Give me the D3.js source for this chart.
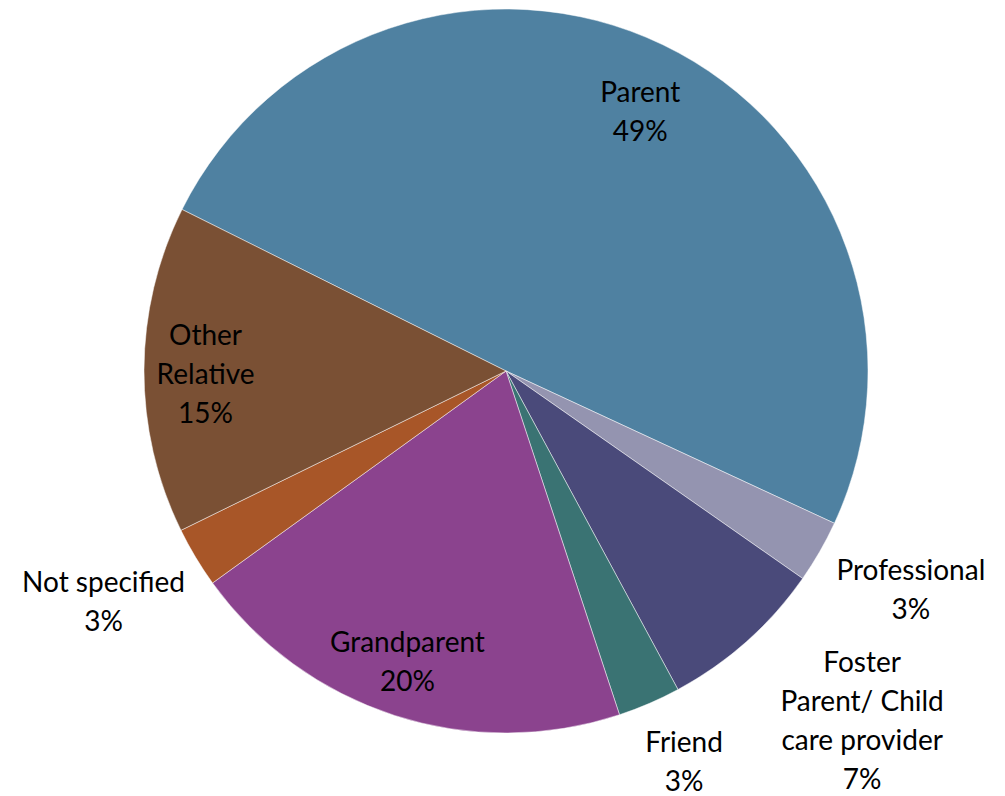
<!DOCTYPE html>
<html>
<head>
<meta charset="utf-8">
<script src="https://cdn.jsdelivr.net/npm/d3@7"></script>
<style>
  html, body { margin: 0; padding: 0; background: #fff; }
  svg { display: block; }
</style>
</head>
<body>
<svg id="chart" width="1005" height="796"></svg>
<script>
// Data
const categories = ["Parent", "Professional", "Foster Parent/ Child care provider", "Friend", "Grandparent", "Not specified", "Other Relative"];
const labelLines = [["Parent"], ["Professional"], ["Foster", "Parent/ Child", "care provider"], ["Friend"], ["Grandparent"], ["Not specified"], ["Other", "Relative"]];
const values = [49.5, 2.8, 7.4, 2.8, 20.1, 2.7, 14.6];
const percentLabels = ["49%", "3%", "7%", "3%", "20%", "3%", "15%"];
const colors = ["#4F81A1", "#9494B0", "#4A4A7A", "#3A7373", "#8B438E", "#A85628", "#7A5034"];
const outside = [false, true, true, true, false, true, false];

// Layout (not data): small label nudges to mimic the original placement
const labelNudge = [[4, 11], [8, -6], [27, -6], [-8, 10], [-6, 5], [-2, 0], [0, 4]];

const width = 1005, height = 796;
const cx = 506, cy = 371, R = 362;
const fontSize = 28, lineH = 39;

const svg = d3.select("#chart");
const g = svg.append("g").attr("transform", `translate(${cx},${cy})`);

const startA = -63.5 * Math.PI / 180;
const pie = d3.pie().sort(null).value(d => d.value)
  .startAngle(startA).endAngle(startA + 2 * Math.PI);
const data = categories.map((c, i) => ({ name: c, value: values[i], lines: labelLines[i], pct: percentLabels[i], color: colors[i], outside: outside[i], nudge: labelNudge[i] }));
const arcs = pie(data);
const arc = d3.arc().innerRadius(0).outerRadius(R);

g.selectAll("path.slice").data(arcs).join("path")
  .attr("class", "slice")
  .attr("d", arc)
  .attr("fill", d => d.data.color)
  .attr("stroke", "#ffffff")
  .attr("stroke-opacity", 0.6)
  .attr("stroke-width", 0.8);

const labels = g.selectAll("g.label").data(arcs).join("g").attr("class", "label");
labels.each(function(d) {
  const sel = d3.select(this);
  const lines = d.data.lines.concat([d.data.pct]);
  const t = sel.append("text")
    .attr("text-anchor", "middle")
    .attr("font-family", "Lato, 'Open Sans', sans-serif")
    .attr("font-size", fontSize)
    .attr("fill", "#000");
  lines.forEach((ln, k) => {
    t.append("tspan").attr("x", 0)
      .attr("y", (k - (lines.length - 1) / 2) * lineH)
      .attr("dy", "0.35em")
      .text(ln);
  });
  const mid = (d.startAngle + d.endAngle) / 2;
  const dx = Math.sin(mid), dy = -Math.cos(mid);
  let x, y;
  if (!d.data.outside) {
    const r = R * 0.83;
    x = dx * r; y = dy * r;
  } else {
    const bb = t.node().getBBox();
    const w = bb.width, h = lines.length * lineH;
    const r = R + 10;
    x = dx * r + Math.sign(dx) * w / 2;
    y = dy * r + Math.sign(dy) * h / 2;
  }
  x += d.data.nudge[0];
  y += d.data.nudge[1];
  sel.attr("transform", `translate(${x},${y})`);
});
</script>
</body>
</html>
